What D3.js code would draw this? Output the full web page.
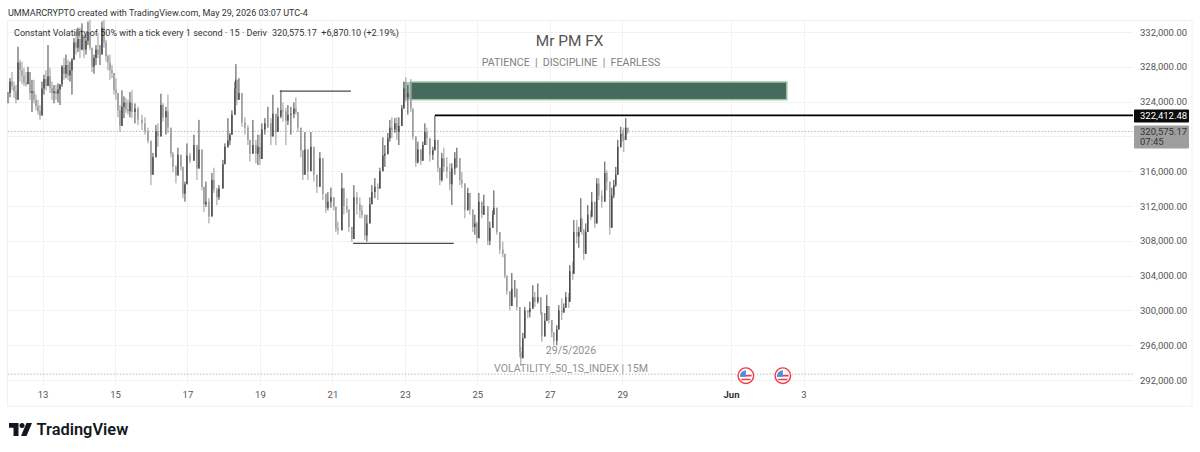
<!DOCTYPE html>
<html>
<head>
<meta charset="utf-8">
<title>Constant Volatility 50 1s, 15m</title>
<script src="https://cdn.jsdelivr.net/npm/d3@7/dist/d3.min.js"></script>
<style>
  html, body { margin: 0; padding: 0; background: #fff; }
  svg { display: block; font-family: Roboto, sans-serif; }
  .tick text { font-family: Roboto, sans-serif; }
</style>
</head>
<body>
<svg id="chart" width="1200" height="452"></svg>
<script>
// Chart slots: each bar sits on a slot, with 36.25 slots to the day.
const slotsPerDay = 36.25;
const firstBarDay = 12.048;
const barSlots = [
  0,2,4,6,8,10,12,14,16,18,
  20,22,24,26,28,30,32,34,36,38,
  40,42,44,46,48,50,52,54,56,58,
  60,62,64,66,68,70,72,74,76,78,
  80,82,84,86,88,90,92,94,96,98,
  100,102,104,106,108,110,112,114,116,118,
  120,122,124,127,130,134,137,140,143,145,
  148,150,153,155,158,160,163,165,168,170,
  173,175,177,179,182,186,189,191,194,196,
  198,201,204,206,209,211,215,217,220,222,
  224,227,228,229,231,234,237,240,242,245,
  248,250,252,254,257,260,263,265,268,270,
  273,275,278,280,283,286,288,290,293,295,
  297,300,303,306,309,312,315,318,320,323,
  326,328,330,334,336,339,341,344,346,349,
  352,354,357,359,362,364,367,370,372,375,
  377,380,382,384,387,389,391,394,396,398,
  400,403,405,408,410,413,415,417,419,422,
  425,427,430,432,434,436,439,442,444,447,
  449,452,454,457,460,462,465,467,469,471,
  474,476,480,482,485,486,489,492,495,497,
  499,502,504,507,509,512,513,515,517,520,
  522,525,527,530,533,534,537,539,541,544,
  546,549,551,554,556,558,561,562,565,566,
  569,571,573,574,576,578,580,583,584,587,
  589,591,594,597,599,602,604,606,608,610,
  613,615,616,618,620
];

// Prices in thousands.
const highs = [
  325.1,326.7,327.4,326.3,325.9,330.3,328.8,328.6,327.9,327.4,
  328.0,327.1,326.5,326.5,324.8,324.2,323.6,326.3,327.1,327.6,
  330.5,327.9,326.3,325.9,325.9,326.1,325.9,328.2,329.0,329.4,
  328.8,328.6,329.0,331.3,332.0,332.5,332.5,333.0,331.7,331.7,
  333.2,333.4,330.2,329.4,330.5,331.9,330.5,333.2,333.4,331.1,
  329.4,329.4,328.2,327.1,326.7,324.8,323.6,325.3,324.6,324.4,
  324.2,325.1,325.3,323.8,323.4,322.5,322.2,321.0,317.6,318.1,
  321.3,321.5,324.9,323.8,323.4,324.8,320.4,318.2,316.7,318.7,
  317.6,314.8,314.8,319.2,318.1,320.2,318.8,321.9,317.3,313.8,
  314.8,312.9,315.8,316.4,314.1,314.4,317.3,319.2,322.1,320.4,
  323.0,326.3,328.3,326.1,326.7,322.7,322.2,321.3,319.6,321.9,
  319.6,320.2,320.2,321.5,322.1,323.4,322.1,324.8,321.5,323.3,
  325.3,323.9,323.3,323.6,323.4,323.9,324.5,322.5,320.2,317.9,
  320.5,318.4,320.5,316.5,315.2,318.2,315.9,312.7,313.6,314.1,
  312.9,310.6,310.2,315.8,314.1,312.9,310.4,309.5,314.4,313.6,
  313.0,312.1,309.5,311.0,313.0,314.4,315.2,314.6,316.4,319.9,
  319.0,320.4,321.9,322.2,322.1,322.2,322.2,323.6,326.3,326.8,
  325.9,326.6,321.3,318.4,319.4,318.4,319.4,321.5,321.0,319.6,
  318.8,322.412,318.1,315.6,318.1,318.7,317.6,316.9,316.9,318.2,
  318.7,316.7,315.9,313.3,314.1,312.9,310.7,311.0,310.2,313.5,
  312.1,313.3,308.7,310.2,311.5,313.8,310.4,307.7,307.9,305.0,
  303.7,301.4,304.3,303.5,301.5,296.6,295.8,297.4,300.4,298.9,
  301.0,302.9,302.1,303.1,300.4,298.6,299.7,301.8,300.0,298.5,
  297.4,298.3,300.6,301.4,300.8,302.1,302.0,305.2,305.6,310.4,
  310.4,309.6,312.9,310.7,308.9,310.0,312.1,311.5,313.6,311.8,
  315.2,315.2,313.8,317.1,316.1,312.7,314.1,315.0,316.5,319.6,
  321.1,320.7,321.0,322.1,320.9
];
const lows = [
  323.8,324.5,325.3,324.4,323.8,327.1,326.3,326.0,325.8,325.7,
  326.1,324.2,322.8,323.8,323.0,322.5,321.9,322.8,324.8,325.3,
  326.3,325.0,324.2,323.8,324.2,323.9,323.6,325.7,326.5,326.7,
  326.5,326.3,324.8,329.0,329.4,329.7,329.0,329.9,329.0,329.4,
  330.5,329.9,327.4,327.2,328.2,329.0,328.2,329.7,330.2,328.6,
  327.6,326.5,326.7,324.8,324.2,322.2,320.5,322.5,322.1,322.7,
  322.5,322.2,322.1,321.5,321.3,320.7,320.2,319.2,314.4,316.5,
  318.4,318.8,321.9,321.7,320.2,320.4,317.6,315.9,314.6,316.1,
  316.1,312.9,312.5,315.8,316.9,317.6,315.0,318.1,313.8,311.3,
  311.9,310.0,312.9,313.5,312.1,312.7,314.1,317.3,318.7,319.0,
  320.4,323.8,325.7,323.6,324.5,321.1,320.2,319.0,317.1,318.1,
  316.9,316.7,316.7,318.4,320.2,321.0,319.0,321.7,319.0,321.0,
  322.1,321.7,319.0,321.3,320.2,322.1,322.5,320.5,317.6,315.0,
  317.6,315.0,317.9,314.8,313.5,314.4,312.7,311.2,311.5,311.8,
  311.5,309.0,308.7,313.3,311.0,311.2,309.0,307.9,311.2,311.0,
  310.6,310.6,308.1,307.9,311.2,312.5,312.9,312.7,314.4,316.4,
  316.5,317.9,319.4,319.8,320.4,319.6,319.0,322.1,323.4,324.0,
  322.5,322.8,319.6,316.5,316.9,316.7,317.9,319.2,319.0,317.1,
  317.3,319.2,315.9,314.4,314.8,315.9,315.2,313.8,312.1,315.6,
  316.4,314.4,314.1,310.6,311.8,311.0,309.0,308.7,307.7,311.0,
  310.6,311.0,307.5,307.5,310.0,311.2,308.7,306.5,306.1,303.7,
  301.8,300.0,301.5,301.5,300.0,294.6,293.6,295.1,298.9,299.1,
  299.2,300.8,300.4,300.8,299.5,296.4,297.4,299.7,298.5,296.9,
  296.0,296.0,298.9,298.9,299.7,300.8,300.3,302.7,303.5,307.0,
  307.7,307.2,309.8,308.7,305.8,307.7,309.5,310.4,310.7,309.5,
  312.7,312.7,311.8,314.1,313.8,308.7,312.7,312.9,314.2,317.1,
  318.7,319.4,318.2,320.2,320.3
];
const closes = [
  325.0,326.3,325.8,325.2,324.2,328.5,327.6,327.0,326.2,326.0,
  327.4,325.0,325.2,324.2,323.5,322.9,322.4,325.5,326.6,325.8,
  326.9,325.6,325.0,325.2,324.9,325.4,326.0,328.0,327.2,328.2,
  327.0,327.6,328.8,330.8,330.2,331.2,330.0,331.5,330.0,331.0,
  332.0,330.2,328.0,329.0,330.0,329.4,329.4,332.5,330.8,329.2,
  328.5,327.6,327.3,325.4,325.0,323.0,321.2,323.4,323.9,323.1,
  322.9,323.9,322.8,323.2,321.9,321.5,320.6,319.5,315.6,317.6,
  320.6,320.0,323.6,322.2,322.9,321.0,318.0,316.5,315.5,317.9,
  316.5,313.4,314.5,317.8,317.2,319.0,316.3,318.5,314.2,312.2,
  312.5,310.8,315.0,313.9,313.0,314.0,316.8,318.8,319.5,320.2,
  322.5,325.5,326.5,324.2,325.0,321.6,321.0,319.6,318.0,319.0,
  318.0,318.8,317.4,320.8,321.5,321.5,320.0,322.6,320.5,322.3,
  323.0,322.9,321.8,322.5,322.6,323.2,322.8,321.0,318.4,315.6,
  318.5,316.0,318.8,315.6,314.2,317.5,313.4,311.8,312.5,313.0,
  311.9,309.4,309.2,314.0,312.0,311.6,309.6,308.2,313.0,312.2,
  311.5,311.0,308.6,310.0,312.2,313.6,314.2,314.0,316.0,317.8,
  318.0,319.8,321.0,320.8,321.5,320.5,321.2,323.2,325.5,324.5,
  325.0,323.2,320.0,317.0,318.5,317.2,319.0,320.5,319.8,317.9,
  318.4,319.6,316.4,315.0,317.5,316.5,316.0,314.5,316.3,317.5,
  317.5,315.0,314.6,311.5,313.5,311.6,309.6,310.0,308.3,312.5,
  311.0,312.0,308.0,309.5,311.0,311.8,309.0,307.0,306.5,304.0,
  302.2,300.5,302.5,302.5,300.4,295.2,294.5,296.8,300.0,299.8,
  300.2,301.5,301.0,301.5,299.8,297.0,298.8,300.5,298.9,297.5,
  296.5,297.8,300.0,299.8,300.3,301.5,301.0,304.5,304.2,309.0,
  308.5,309.0,310.5,309.3,306.5,309.0,311.0,310.8,312.5,310.0,
  314.6,313.2,312.5,315.8,314.8,309.5,313.2,314.4,315.6,318.8,
  320.3,320.0,319.6,321.0,320.575
];

// Axis content.
const priceGrid = [332, 328, 324, 320, 316, 312, 308, 304, 300, 296, 292];
const priceLabels = [332, 328, 324, 316, 312, 308, 304, 300, 296, 292];
const dayTicks = [13, 15, 17, 19, 21, 23, 25, 27, 29, 32, 34];
const dayLabels = ["13", "15", "17", "19", "21", "23", "25", "27", "29", "Jun", "3"];

// Price levels in thousands; days run on from May, so 1 June is 32.
const lastPrice = 320.57517;
const sessionLow = 292.67;
const keyLevel = 322.41248;
const keyLevelStartDay = 23.83;
const swingHighLevel = 325.2;
const swingHighDays = [19.55, 21.51];
const swingLowLevel = 307.7;
const swingLowDays = [21.57, 24.35];
const supplyZonePrices = [326.25, 324.22];
const supplyZoneDays = [22.97, 23.16, 33.54];
const eventDays = [32.41, 33.43];

const svg = d3.select("#chart");

const x = d3.scaleLinear().domain([13, 34]).range([42.5, 803.5]);
const y = d3.scaleLinear().domain([292, 332]).range([380, 32]);
const paneLeft = 8, paneRight = 1133, paneTop = 21, gridBottom = 385;
const frameRight = 1192, frameBottom = 406;

const barDay = s => firstBarDay + s / slotsPerDay;

// Pane frame
svg.append("rect")
  .attr("x", 7.5).attr("y", 20.5)
  .attr("width", frameRight - 7.5).attr("height", frameBottom - 20.5)
  .attr("fill", "none").attr("stroke", "#f0f0f0");

// Gridlines
svg.append("g").selectAll("line").data(priceGrid).join("line")
  .attr("x1", paneLeft).attr("x2", paneRight)
  .attr("y1", d => Math.round(y(d)) + 0.5).attr("y2", d => Math.round(y(d)) + 0.5)
  .attr("stroke", "#f2f2f2");
svg.append("g").selectAll("line").data(dayTicks).join("line")
  .attr("y1", paneTop).attr("y2", gridBottom)
  .attr("x1", d => Math.round(x(d)) + 0.5).attr("x2", d => Math.round(x(d)) + 0.5)
  .attr("stroke", "#f2f2f2");

// Supply zone sits behind the candles
const zoneY = supplyZonePrices.map(y);
svg.append("rect")
  .attr("x", x(supplyZoneDays[0])).attr("y", zoneY[0])
  .attr("width", x(supplyZoneDays[1]) - x(supplyZoneDays[0]))
  .attr("height", zoneY[1] - zoneY[0])
  .attr("fill", "#a9c6b6");
svg.append("rect")
  .attr("x", x(supplyZoneDays[1])).attr("y", zoneY[0])
  .attr("width", x(supplyZoneDays[2]) - x(supplyZoneDays[1]))
  .attr("height", zoneY[1] - zoneY[0])
  .attr("fill", "#456b5f").attr("stroke", "#9fc3a3").attr("stroke-width", 1.5);

// Dotted reference lines
[lastPrice, sessionLow].forEach(level => {
  svg.append("line")
    .attr("x1", paneLeft).attr("x2", paneRight)
    .attr("y1", y(level)).attr("y2", y(level))
    .attr("stroke", "#aaa").attr("stroke-width", 1)
    .attr("stroke-dasharray", "1.2 2");
});

// Candles: each bar opens where the previous one closed
const bars = barSlots.map((s, i) => {
  const open = i === 0 ? closes[0] : closes[i - 1];
  return {
    day: barDay(s), open, close: closes[i],
    high: Math.max(highs[i], open), low: Math.min(lows[i], open)
  };
});
const tone = d => d.close >= d.open ? "#474747" : "#999";
const candles = svg.append("g").selectAll("g").data(bars).join("g");
candles.append("line")
  .attr("x1", d => x(d.day)).attr("x2", d => x(d.day))
  .attr("y1", d => y(d.high)).attr("y2", d => y(d.low))
  .attr("stroke", tone).attr("stroke-width", 1);
candles.append("line")
  .attr("x1", d => x(d.day)).attr("x2", d => x(d.day))
  .attr("y1", d => y(Math.max(d.open, d.close))).attr("y2", d => y(Math.min(d.open, d.close)))
  .attr("stroke", tone).attr("stroke-width", 1.4);

// Swing levels
svg.append("line")
  .attr("x1", x(swingHighDays[0])).attr("x2", x(swingHighDays[1]))
  .attr("y1", y(swingHighLevel)).attr("y2", y(swingHighLevel))
  .attr("stroke", "#4a4a4a").attr("stroke-width", 1.3);
svg.append("line")
  .attr("x1", x(swingLowDays[0])).attr("x2", x(swingLowDays[1]))
  .attr("y1", y(swingLowLevel)).attr("y2", y(swingLowLevel))
  .attr("stroke", "#4a4a4a").attr("stroke-width", 1.3);
svg.append("line")
  .attr("x1", x(keyLevelStartDay)).attr("x2", paneRight)
  .attr("y1", y(keyLevel)).attr("y2", y(keyLevel))
  .attr("stroke", "#000").attr("stroke-width", 1.7);

// Axes
const priceFmt = d3.format(",.2f");
const priceAxis = d3.axisRight(y).tickValues(priceLabels)
  .tickSize(0).tickPadding(0).tickFormat(d => priceFmt(d * 1000));
svg.append("g").attr("transform", "translate(1140,0)").call(priceAxis)
  .call(g => g.select(".domain").remove())
  .call(g => g.selectAll("text").attr("font-size", 9.5).attr("fill", "#555").attr("dy", "0.32em"));

const timeAxis = d3.axisBottom(x).tickValues(dayTicks)
  .tickSize(0).tickPadding(0).tickFormat((d, i) => dayLabels[i]);
svg.append("g").attr("transform", "translate(0,391)").call(timeAxis)
  .call(g => g.select(".domain").remove())
  .call(g => g.selectAll("text").attr("font-size", 9.5).attr("fill", "#555"))
  .call(g => g.selectAll(".tick").filter(d => d === 32).select("text")
    .attr("font-weight", 700).attr("fill", "#333"));

// Price tags
svg.append("rect").attr("x", 1134).attr("y", y(keyLevel) - 6)
  .attr("width", 55).attr("height", 13).attr("rx", 1).attr("fill", "#0c0c0c");
svg.append("text").attr("x", 1140).attr("y", y(keyLevel) + 0.5)
  .attr("dy", "0.34em").attr("font-size", 9.5).attr("fill", "#fff")
  .text(priceFmt(keyLevel * 1000));
svg.append("rect").attr("x", 1134).attr("y", 125.5)
  .attr("width", 55).attr("height", 23).attr("rx", 1).attr("fill", "#9e9e9e");
svg.append("text").attr("x", 1140).attr("y", y(lastPrice))
  .attr("dy", "0.34em").attr("font-size", 9.5).attr("fill", "#333")
  .text(priceFmt(lastPrice * 1000));
svg.append("text").attr("x", 1140).attr("y", 142)
  .attr("dy", "0.34em").attr("font-size", 9.5).attr("fill", "#333")
  .text("07:45");

// Header and legend
svg.append("text").attr("x", 8).attr("y", 15.5).attr("font-size", 9.05).attr("fill", "#333")
  .text("UMMARCRYPTO created with TradingView.com, May 29, 2026 03:07 UTC-4");
svg.append("text").attr("x", 14).attr("y", 35.5).attr("font-size", 9.05).attr("fill", "#333")
  .text("Constant Volatility of 50% with a tick every 1 second · 15 · Deriv");
svg.append("text").attr("x", 272).attr("y", 35.5).attr("font-size", 9.05).attr("fill", "#333")
  .style("white-space", "pre")
  .text("320,575.17  +6,870.10 (+2.19%)");

// Watermark text
svg.append("text").attr("x", 569.5).attr("y", 46).attr("text-anchor", "middle")
  .attr("font-size", 15.4).attr("fill", "#555").text("Mr PM FX");
svg.append("text").attr("x", 571).attr("y", 66).attr("text-anchor", "middle")
  .attr("font-size", 10.6).attr("fill", "#808080").style("white-space", "pre")
  .text("PATIENCE  |  DISCIPLINE  |  FEARLESS");
svg.append("text").attr("x", 571).attr("y", 354).attr("text-anchor", "middle")
  .attr("font-size", 10.6).attr("fill", "#909090").text("29/5/2026");
svg.append("text").attr("x", 571).attr("y", 372).attr("text-anchor", "middle")
  .attr("font-size", 10.6).attr("fill", "#909090").text("VOLATILITY_50_1S_INDEX | 15M");

// Economic event markers
const flags = svg.append("g").selectAll("g").data(eventDays).join("g")
  .attr("transform", d => `translate(${x(d)},${y(sessionLow) + 1.5})`);
flags.append("circle").attr("r", 7.8).attr("fill", "#fff").attr("stroke", "#ee3b45").attr("stroke-width", 1.4);
flags.append("path").attr("d", "M-5.8,-1H5.8V0.8H-5.8ZM-4.6,3H4.6V4.6H-4.6Z").attr("fill", "#e8404a");
flags.append("path").attr("d", "M-5.9,1A6,6 0 0 1 0,-5.4V1Z").attr("fill", "#4a8fe0");

// Brand mark
const brand = svg.append("g").attr("transform", "translate(9,423)").attr("fill", "#131722");
brand.append("path").attr("d", "M0,0H9.5V13H4.5V4.8H0Z");
brand.append("circle").attr("cx", 13).attr("cy", 2.5).attr("r", 2.5);
brand.append("path").attr("d", "M17.5,0H23L17.5,13H12Z");
svg.append("text").attr("x", 36.5).attr("y", 435).attr("font-size", 16.4)
  .attr("font-weight", 600).attr("fill", "#131722").text("TradingView");
</script>
</body>
</html>
